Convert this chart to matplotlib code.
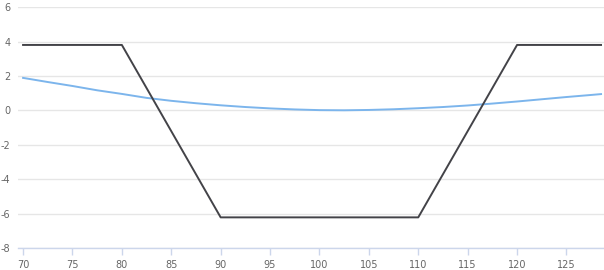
import numpy as np
import matplotlib.pyplot as plt

plt.rcParams["axes.unicode_minus"] = False

# payoff line (black) and value curve (blue)
payoff_x = [70, 80, 90, 110, 120, 128.5]
payoff_y = [3.8, 3.8, -6.2, -6.2, 3.8, 3.8]

value_x = [70, 72.5, 75, 77.5, 80, 82.5, 85, 87.5, 90, 92.5, 95, 97.5, 100,
           102.5, 105, 107.5, 110, 112.5, 115, 117.5, 120, 122.5, 125, 127.5, 128.5]
value_y = [1.89, 1.65, 1.42, 1.17, 0.96, 0.73, 0.56, 0.42, 0.30, 0.20, 0.12, 0.06, 0.02,
           0.01, 0.03, 0.07, 0.13, 0.20, 0.29, 0.40, 0.52, 0.65, 0.78, 0.90, 0.95]

xticks = [70, 75, 80, 85, 90, 95, 100, 105, 110, 115, 120, 125]
yticks = [-8, -6, -4, -2, 0, 2, 4, 6]

fig = plt.figure(figsize=(6.04, 2.7), dpi=100)
ax = fig.add_axes([0.030, 0.080, 0.970, 0.894])

ax.plot(value_x, value_y, color="#7cb5ec", lw=1.4, zorder=3)
ax.plot(payoff_x, payoff_y, color="#434348", lw=1.4, zorder=4)

ax.set_xlim(69.5, 128.8)
ax.set_ylim(-8, 6)
ax.set_xticks(xticks)
ax.set_yticks(yticks)

ax.grid(axis="y", color="#e6e6e6", lw=1)
ax.set_axisbelow(True)
for s in ["top", "right", "left"]:
    ax.spines[s].set_visible(False)
ax.spines["bottom"].set_color("#ccd6eb")
ax.spines["bottom"].set_linewidth(1)

ax.tick_params(axis="x", colors="#ccd6eb", length=5, width=1, labelcolor="#666666",
               labelsize=7, pad=3)
ax.tick_params(axis="y", length=0, labelcolor="#666666", labelsize=7, pad=5.5)

fig.savefig("out.png", dpi=100)
